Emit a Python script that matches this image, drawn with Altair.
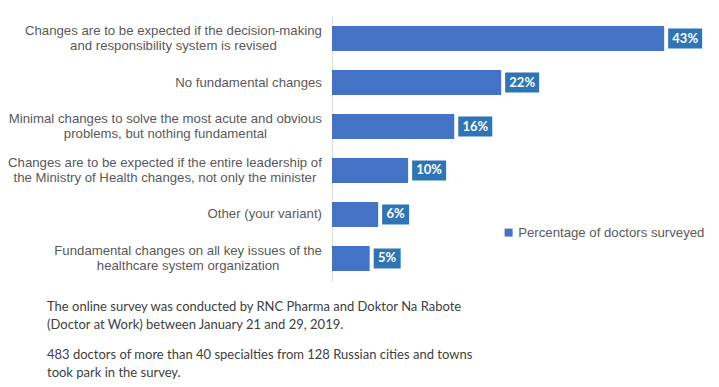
import altair as alt
import pandas as pd

categories = [
    "Changes are to be expected if the decision-making\nand responsibility system is revised",
    "No fundamental changes",
    "Minimal changes to solve the most acute and obvious\nproblems, but nothing fundamental",
    "Changes are to be expected if the entire leadership of\nthe Ministry of Health changes, not only the minister",
    "Other (your variant)",
    "Fundamental changes on all key issues of the\nhealthcare system organization",
]
values = [43.2, 22.0, 15.9, 9.9, 6.0, 4.9]
value_labels = ["43%", "22%", "16%", "10%", "6%", "5%"]
series_name = "Percentage of doctors surveyed"
note_title = [
    "The online survey was conducted by RNC Pharma and Doktor Na Rabote",
    "(Doctor at Work) between January 21 and 29, 2019.",
]
note_sub = [
    "483 doctors of more than 40 specialties from 128 Russian cities and towns",
    "took park in the survey.",
]

# Arial / Liberation Sans advance widths (per 1000 em) to centre multi-line labels
_W = {" ": 278, "(": 333, ")": 333, ",": 278, "-": 333, ".": 278}
for ch in "0123456789":
    _W[ch] = 556
_W.update(dict(zip("ABCDEFGHIJKLMNOPQRSTUVWXYZ",
                   [667, 667, 722, 722, 667, 611, 778, 722, 278, 500, 667, 556, 833,
                    722, 778, 667, 778, 722, 667, 611, 722, 667, 944, 667, 667, 611])))
_W.update(dict(zip("abcdefghijklmnopqrstuvwxyz",
                   [556, 556, 500, 556, 556, 278, 556, 556, 222, 222, 500, 222, 833,
                    556, 556, 556, 556, 333, 500, 278, 556, 500, 722, 500, 500, 500])))
LABEL_SIZE = 13.2
LABEL_GAP = 10


def text_width(s, size=LABEL_SIZE):
    return sum(_W.get(c, 556) for c in s) * size / 1000.0


df = pd.DataFrame({
    "cat": categories,
    "pct": values,
    "label": value_labels,
    "series": [series_name] * len(values),
})
df["cx"] = [-LABEL_GAP - max(text_width(l) for l in c.split("\n")) / 2 for c in categories]
df["multi"] = ["\n" in c for c in categories]

FONT = "Liberation Sans"
GREY = "#595959"

y_enc = alt.Y(
    "cat:N",
    sort=categories,
    scale=alt.Scale(paddingInner=0.43, paddingOuter=0.227),
    axis=alt.Axis(labels=False, ticks=False, title=None, grid=False,
                  domainColor="#D9D9D9", domainWidth=1),
)
y_plain = alt.Y("cat:N", sort=categories)
x_scale = alt.Scale(domain=[0, 45], nice=False)

base = alt.Chart(df)

bars = base.mark_bar(size=25).encode(
    x=alt.X("pct:Q", scale=x_scale, axis=None),
    y=y_enc,
    color=alt.Color(
        "series:N",
        scale=alt.Scale(domain=[series_name], range=["#4472C4"]),
        legend=alt.Legend(
            title=None, orient="none", legendX=170, legendY=210,
            symbolType="square", symbolSize=64, symbolStrokeWidth=0,
            labelFont=FONT, labelFontSize=13.2, labelColor=GREY, labelOffset=3,
            labelLimit=300,
        ),
    ),
)

box2 = base.transform_filter("length(datum.label) > 2").mark_bar(
    size=20, color="#2E75B6", xOffset=4, x2Offset=38
).encode(x=alt.X("pct:Q", scale=x_scale), x2="pct:Q", y=y_plain)

box1 = base.transform_filter("length(datum.label) <= 2").mark_bar(
    size=20, color="#2E75B6", xOffset=4, x2Offset=31
).encode(x=alt.X("pct:Q", scale=x_scale), x2="pct:Q", y=y_plain)

txt2 = base.transform_filter("length(datum.label) > 2").mark_text(
    align="center", baseline="middle", dx=21, font="Lato", fontWeight="bold",
    fontSize=13, color="white"
).encode(x=alt.X("pct:Q", scale=x_scale), y=y_plain, text="label:N")

txt1 = base.transform_filter("length(datum.label) <= 2").mark_text(
    align="center", baseline="middle", dx=17.5, font="Lato", fontWeight="bold",
    fontSize=13, color="white"
).encode(x=alt.X("pct:Q", scale=x_scale), y=y_plain, text="label:N")

cat_single = base.transform_filter("!datum.multi").mark_text(
    align="center", baseline="middle",
    font=FONT, fontSize=LABEL_SIZE, color=GREY
).encode(x=alt.X("cx:Q", scale=None), y=y_plain, text="cat:N")

cat_multi = base.transform_filter("datum.multi").mark_text(
    align="center", baseline="middle", lineBreak="\n", lineHeight=15, dy=-7.5,
    font=FONT, fontSize=LABEL_SIZE, color=GREY
).encode(x=alt.X("cx:Q", scale=None), y=y_plain, text="cat:N")

chart = alt.layer(bars, box2, box1, txt2, txt1, cat_single, cat_multi).properties(
    width=346,
    height=265,
    padding={"left": 0, "top": 8, "right": 5, "bottom": 5},
    title=alt.TitleParams(
        text=note_title,
        subtitle=note_sub,
        orient="bottom",
        anchor="start",
        frame="group",
        dx=-285,
        offset=20,
        font="Lato", fontSize=13, fontWeight="normal", color="#404040",
        lineHeight=18,
        subtitleFont="Lato", subtitleFontSize=13, subtitleColor="#404040",
        subtitleLineHeight=18, subtitlePadding=17,
    ),
).configure_view(stroke=None)

chart.save("out.html", embed_options={"renderer": "svg", "actions": False})
